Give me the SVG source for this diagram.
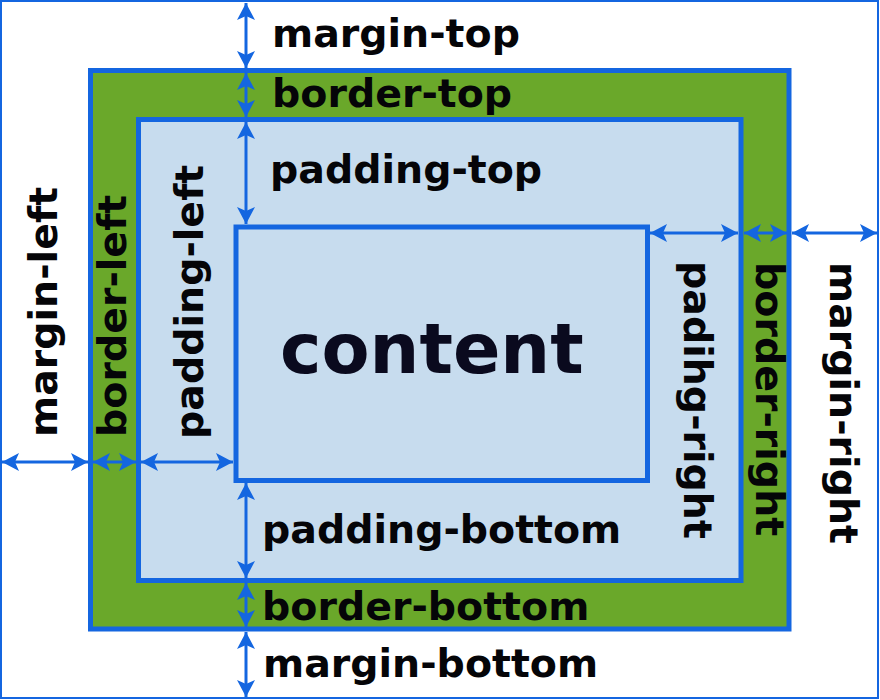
<svg xmlns="http://www.w3.org/2000/svg" width="880" height="700" viewBox="0 0 880 700">
<defs>
<style>
.box{stroke:#1466e0;stroke-width:5}
.lbl{font-family:"DejaVu Sans",Verdana,sans-serif;font-weight:bold;font-size:39.5px;fill:#050508}
.big{font-family:"DejaVu Sans",Verdana,sans-serif;font-weight:bold;font-size:70px;fill:#0a0a1e}
.arr{stroke:#1466e0;stroke-width:3;fill:none;marker-start:url(#ah);marker-end:url(#ah)}
</style>
<marker id="ah" viewBox="0 0 17 18" refX="17" refY="9" markerWidth="17" markerHeight="18" markerUnits="userSpaceOnUse" orient="auto-start-reverse">
<path d="M0,0 L17,9 L0,18 L4,9 Z" fill="#1466e0"/>
</marker>
</defs>
<rect x="0" y="0" width="880" height="700" fill="#ffffff"/>
<g id="margin-area">
<rect x="1" y="1" width="877" height="697" fill="#ffffff" stroke="#1466e0" stroke-width="2"/>
<text class="lbl" x="272" y="47">margin-top</text>
<text class="lbl" x="263" y="677">margin-bottom</text>
<text class="lbl" transform="translate(57,437) rotate(-90)">margin-left</text>
<text class="lbl" transform="translate(830,262) rotate(90)">margin-right</text>
</g>
<g id="border-box">
<rect class="box" x="90.5" y="70.5" width="698.5" height="558.5" fill="#6aa82a"/>
<text class="lbl" x="272" y="107">border-top</text>
<text class="lbl" x="262" y="620">border-bottom</text>
<text class="lbl" transform="translate(126,437) rotate(-90)">border-left</text>
<text class="lbl" transform="translate(756,262) rotate(90)">border-right</text>
</g>
<g id="padding-box">
<rect class="box" x="138.5" y="119.5" width="602.5" height="461" fill="#c7dcee"/>
<text class="lbl" x="270" y="183">padding-top</text>
<text class="lbl" x="262" y="543">padding-bottom</text>
<text class="lbl" transform="translate(203,439) rotate(-90)">padding-left</text>
<text class="lbl" transform="translate(684,261) rotate(90)">padihg-right</text>
</g>
<g id="content">
<rect class="box" x="236" y="227" width="411.5" height="253.5" fill="#c7dcee"/>
<text class="big" x="280" y="373">content</text>
</g>
<g id="connectors">
<line class="arr" x1="246" y1="3" x2="246" y2="68"/>
<line class="arr" x1="246" y1="73" x2="246" y2="117"/>
<line class="arr" x1="246" y1="122" x2="246" y2="224"/>
<line class="arr" x1="246" y1="483" x2="246" y2="578"/>
<line class="arr" x1="246" y1="583" x2="246" y2="627"/>
<line class="arr" x1="246" y1="632" x2="246" y2="697"/>
<line class="arr" x1="2" y1="462" x2="88" y2="462"/>
<line class="arr" x1="93" y1="462" x2="136" y2="462"/>
<line class="arr" x1="141" y1="462" x2="233" y2="462"/>
<line class="arr" x1="650" y1="233" x2="738" y2="233"/>
<line class="arr" x1="744" y1="233" x2="787" y2="233"/>
<line class="arr" x1="792" y1="233" x2="877" y2="233"/>
</g>
</svg>
